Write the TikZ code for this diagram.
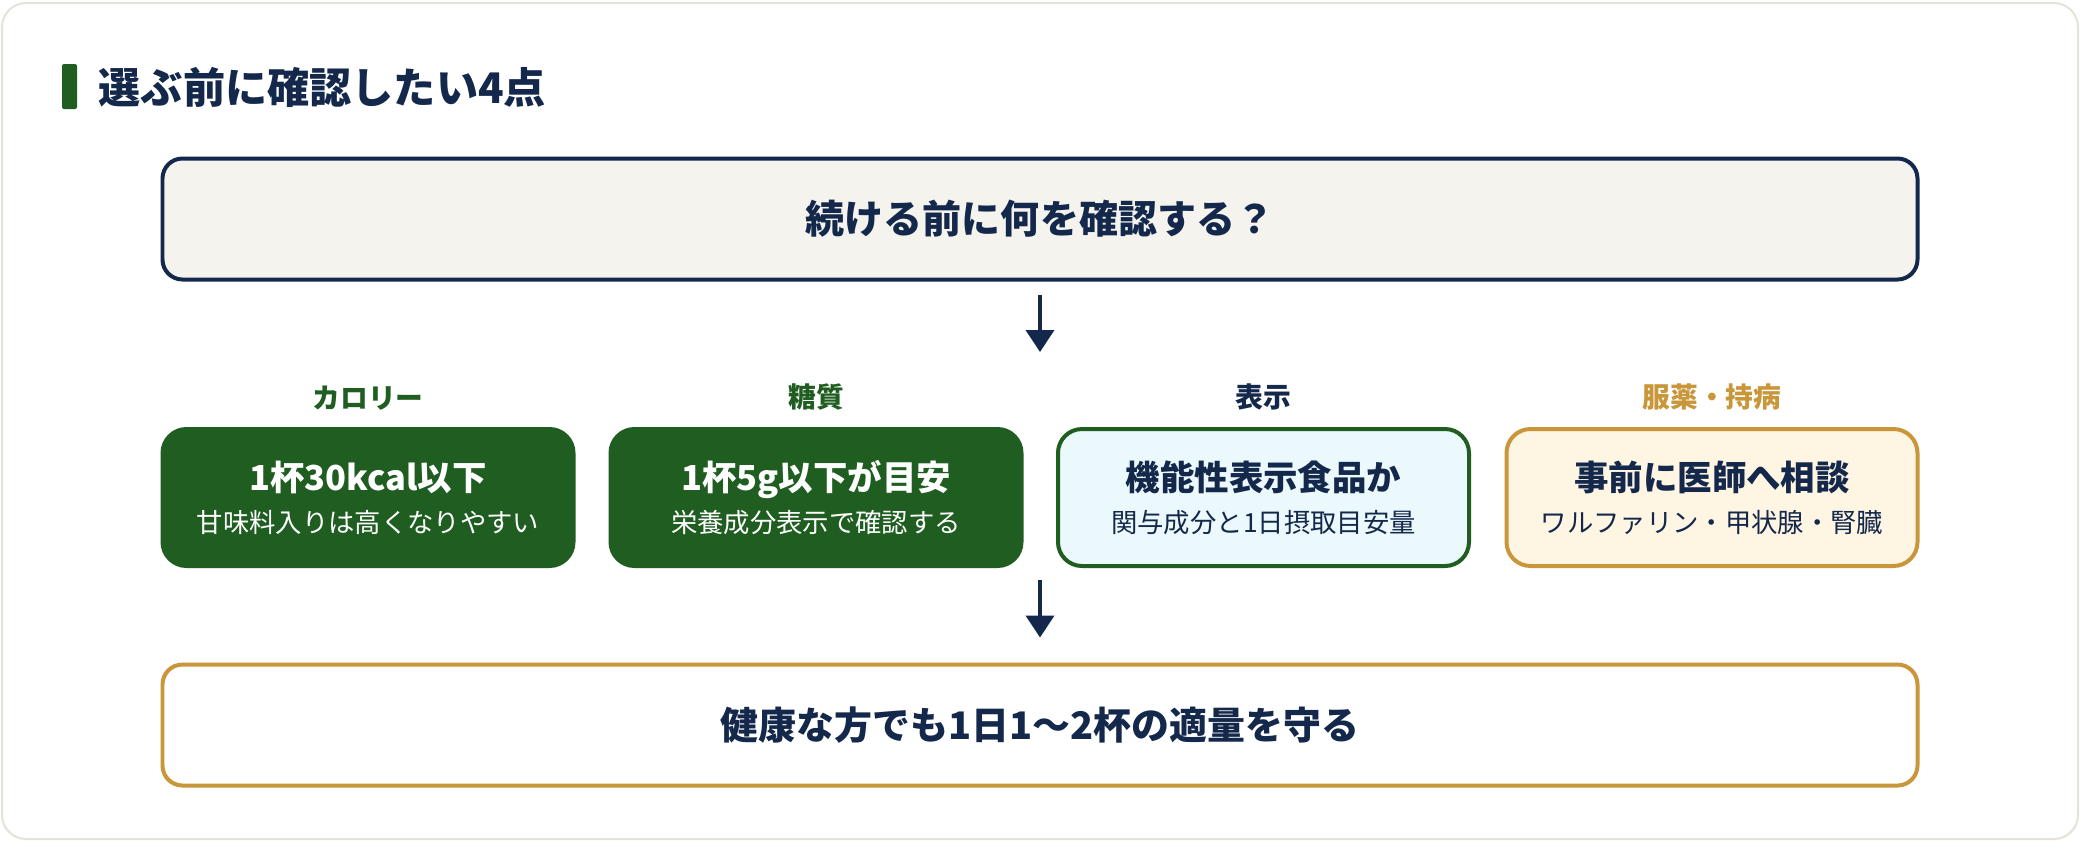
\documentclass[tikz,border=0pt]{standalone}
\usepackage{fontspec}
\setmainfont{Noto Sans CJK JP}
\usepackage{tikz}
\usetikzlibrary{positioning,arrows.meta}
\definecolor{ptAzul}{HTML}{13284A}
\definecolor{ptVerde}{HTML}{1F5D21}
\definecolor{ptOro}{HTML}{C9963A}
\definecolor{ptBeige}{HTML}{F5F3EE}
\definecolor{ptCeleste}{HTML}{EBF8FC}
\definecolor{ptCrema}{HTML}{FFF5E3}
\definecolor{ptBorde}{HTML}{E4E2DA}

\begin{document}
\begin{tikzpicture}[
      caja/.style={rounded corners=0.24cm, draw=#1, line width=0.04cm,
                   minimum width=4.11cm, minimum height=1.37cm, align=center,
                   font=\fontsize{9.8}{12}\selectfont\bfseries},
      ancha/.style={rounded corners=0.2cm, draw=#1, line width=0.04cm,
                    minimum width=17.55cm, minimum height=1.21cm, text=ptAzul,
                    font=\fontsize{11.1}{13}\selectfont\bfseries},
      etiqueta/.style={inner sep=0pt, text=#1, font=\fontsize{7.9}{9}\selectfont\bfseries},
      flecha/.style={-{Triangle[length=0.22cm,width=0.28cm]}, ptAzul, line width=0.04cm}]
    \useasboundingbox (0,0) rectangle (20.8,-8.42);
    \draw[ptBorde, fill=white, line width=0.02cm, rounded corners=0.24cm]
      (0.02,-0.03) rectangle (20.78,-8.39);
    % titulo
    \node[fill=ptVerde, rounded corners=0.02cm, inner sep=0pt,
          minimum width=0.15cm, minimum height=0.45cm] (barra) at (0.695,-0.865) {};
    \node[anchor=west, inner sep=0pt, text=ptAzul,
          font=\fontsize{12}{14}\selectfont\bfseries] (titulo) at (0.98,-0.875) {選ぶ前に確認したい4点};
    % pregunta y meta
    \node[ancha=ptAzul, fill=ptBeige] (pregunta) at (10.4,-2.19) {続ける前に何を確認する？};
    \node[ancha=ptOro, fill=white]    (meta)     at (10.4,-7.25)
      {\fontsize{10.8}{13}\selectfont 健康な方でも1日1〜2杯の適量を守る};
    % cuatro puntos
    \node[caja=ptVerde, fill=ptVerde, text=white] (caloria) at (3.68,-4.975)
      {1杯30kcal以下\\ \fontsize{7.5}{11.7}\selectfont\mdseries 甘味料入りは高くなりやすい};
    \node[caja=ptVerde, fill=ptVerde, text=white] (azucar) at (8.16,-4.975)
      {1杯5g以下が目安\\ \fontsize{7.5}{11.7}\selectfont\mdseries 栄養成分表示で確認する};
    \node[caja=ptVerde, fill=ptCeleste, text=ptAzul] (funcion) at (12.635,-4.975)
      {機能性表示食品か\\ \fontsize{7.5}{11.7}\selectfont\mdseries 関与成分と1日摂取目安量};
    \node[caja=ptOro, fill=ptCrema, text=ptAzul] (consulta) at (17.12,-4.975)
      {事前に医師へ相談\\ \fontsize{7.5}{11.7}\selectfont\mdseries ワルファリン・甲状腺・腎臓};
    \node[etiqueta=ptVerde, above=0.165cm of caloria]  (tCaloria)  {カロリー};
    \node[etiqueta=ptVerde, above=0.165cm of azucar]   (tAzucar)   {糖質};
    \node[etiqueta=ptAzul,  above=0.165cm of funcion]  (tFuncion)  {表示};
    \node[etiqueta=ptOro,   above=0.165cm of consulta] (tConsulta) {服薬・持病};
    % flechas
    \coordinate (f1) at (10.4,-3.52);
    \coordinate (f2) at (10.4,-5.80);
    \draw[flecha] ([yshift=-0.13cm]pregunta.south) -- (f1);
    \draw[flecha] (f2) -- ([yshift=0.25cm]meta.north);
  \end{tikzpicture}
\end{document}
